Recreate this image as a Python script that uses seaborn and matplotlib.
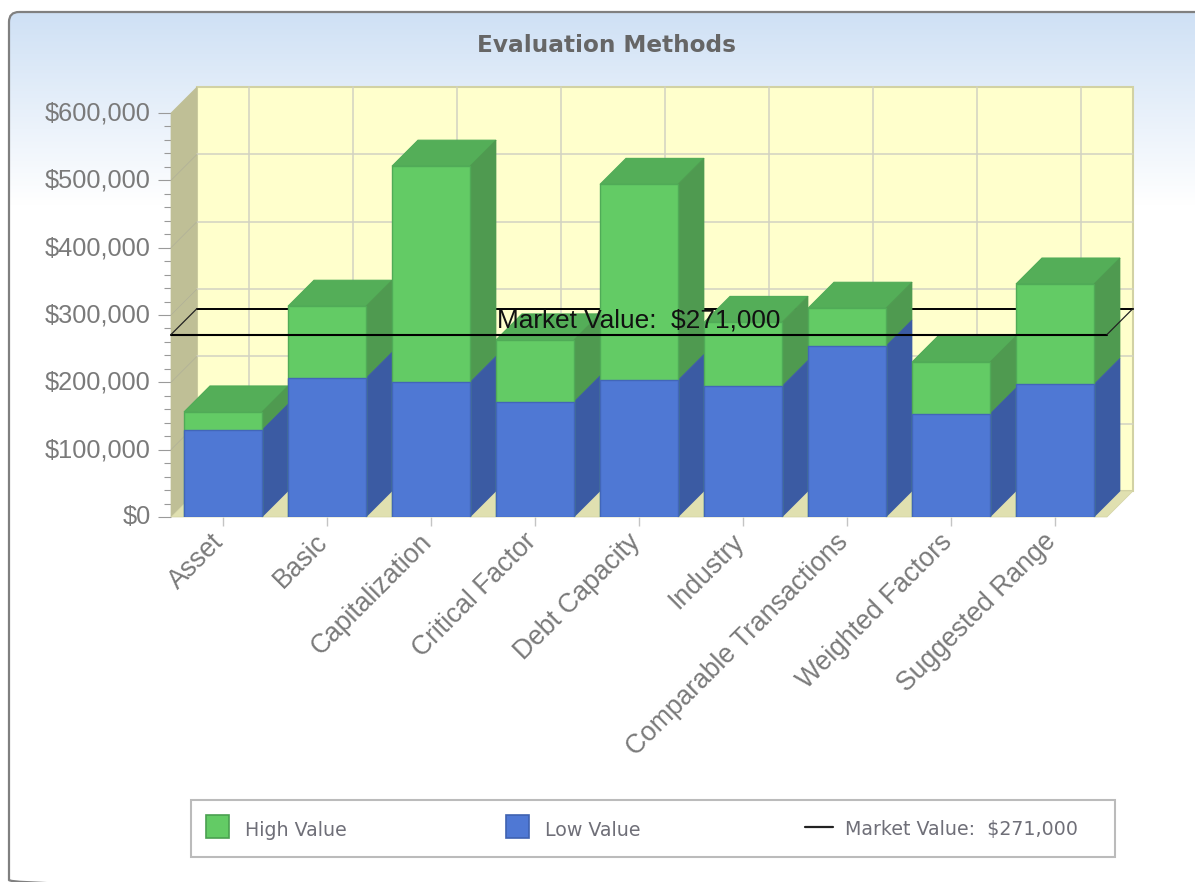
import numpy as np
import pandas as pd
import matplotlib
matplotlib.use('Agg')
import matplotlib.pyplot as plt
from matplotlib.patches import Polygon, Rectangle, FancyBboxPatch
from matplotlib.ticker import MultipleLocator, FuncFormatter
from matplotlib.transforms import ScaledTranslation
import seaborn as sns

methods = ['Asset', 'Basic', 'Capitalization', 'Critical Factor', 'Debt Capacity',
           'Industry', 'Comparable Transactions', 'Weighted Factors', 'Suggested Range']
low_value = [129000, 206000, 200000, 171000, 203000, 194000, 254000, 153000, 197000]
high_value = [156000, 313000, 521000, 263000, 494000, 289000, 310000, 230000, 346000]
market_value = 271000
market_label = 'Market Value:  $271,000'

W, H = 1195, 882
sns.set_theme(style='white')
plt.rcParams['font.family'] = ['Liberation Sans', 'DejaVu Sans']

fig = plt.figure(figsize=(W / 100, H / 100), dpi=100, facecolor='white')

# chrome in pixel coords
bg = fig.add_axes([0, 0, 1, 1], zorder=0)
bg.set_xlim(0, W)
bg.set_ylim(H, 0)
bg.axis('off')
grad = np.linspace(0, 1, 200).reshape(-1, 1)
top_col = np.array([0.81, 0.88, 0.96])
img = top_col + (1 - top_col) * grad[:, :, None]
panel = FancyBboxPatch((9, 12), 1260, 878, boxstyle='round,pad=0,rounding_size=10',
                       fc='none', ec='#808080', lw=1.6)
bg.add_patch(panel)
im = bg.imshow(img, extent=(9, 1195, 205, 12), aspect='auto', zorder=0)
im.set_clip_path(panel)
bg.set_xlim(0, W)
bg.set_ylim(H, 0)
bg.text(607, 45, 'Evaluation Methods', ha='center', va='center', fontsize=16.7,
        fontweight='bold', color='#666666', family='DejaVu Sans')

# legend box
bg.add_patch(Rectangle((191, 800), 924, 57, fc='white', ec='#bbbbbb', lw=1.5))
legend_font = dict(fontsize=13.7, color='#6f6f78', va='center', family='DejaVu Sans')
bg.add_patch(Rectangle((206.5, 814.5), 23, 23, fc='#63cb65', ec='#4aa050', lw=1.2))
bg.text(245, 830, 'High Value', **legend_font)
bg.add_patch(Rectangle((506.5, 814.5), 23, 23, fc='#4f78d4', ec='#3f62b0', lw=1.2))
bg.text(545, 830, 'Low Value', **legend_font)
bg.plot([805, 833], [827, 827], color='#222222', lw=1.6)
bg.text(845, 830, market_label, **legend_font)

# main axes = front plane of the 3D box
left, right, top, bottom = 171, 1107, 113, 517
ax = fig.add_axes([left / W, 1 - bottom / H, (right - left) / W, (bottom - top) / H], zorder=1)
ax.patch.set_visible(False)

df = pd.DataFrame({'method': methods, 'low': low_value, 'high': high_value})

sns.barplot(data=df, x='method', y='high', order=methods, color='#63cb65', saturation=1,
            width=0.75, edgecolor='#50ab57', linewidth=1, ax=ax, zorder=5)
n_high = len(ax.patches)
sns.barplot(data=df, x='method', y='low', order=methods, color='#4f78d4', saturation=1,
            width=0.75, edgecolor='#4266b8', linewidth=1, ax=ax, zorder=6)

ax.set_xlim(-0.5, len(methods) - 0.5)
ax.set_ylim(0, 600000)
ax.set_xlabel('')
ax.set_ylabel('')

# depth of the box in data units (26 px each way)
dx = 26 / ((right - left) / len(methods))
dy = 26 / ((bottom - top) / 600000)
x0, x1 = ax.get_xlim()
y0, y1 = ax.get_ylim()

bars = list(ax.patches)
high_bars = bars[:n_high]
low_bars = bars[n_high:]

def poly(points, **kw):
    p = Polygon(points, closed=True, clip_on=False, **kw)
    ax.add_patch(p)
    return p

# walls
poly([(x0 + dx, y0 + dy), (x1 + dx, y0 + dy), (x1 + dx, y1 + dy), (x0 + dx, y1 + dy)],
     fc='#ffffcc', ec='#d2d2a4', lw=1.5, zorder=1)
poly([(x0, y0), (x0 + dx, y0 + dy), (x0 + dx, y1 + dy), (x0, y1)],
     fc='#bfbf96', ec='#bfbf96', lw=0.5, zorder=1)
poly([(x0, y0), (x1, y0), (x1 + dx, y0 + dy), (x0 + dx, y0 + dy)],
     fc='#e0e0b0', ec='#d2d2a4', lw=0.5, zorder=1)

# back wall grid
for v in np.arange(100000, 600000, 100000):
    ax.plot([x0 + dx, x1 + dx], [v + dy, v + dy], color='#d2d2c2', lw=1.1, zorder=2, clip_on=False)
    ax.plot([x0, x0 + dx], [v, v + dy], color='#b0b098', lw=0.5, zorder=2, clip_on=False)
for i in range(len(methods)):
    ax.plot([i + dx, i + dx], [dy, y1 + dy], color='#d2d2c2', lw=1.1, zorder=2, clip_on=False)

# market value plane, back edge goes behind the bars
ax.plot([x0 + dx, x1 + dx], [market_value + dy] * 2, color='black', lw=1.4, zorder=3, clip_on=False)

# 3D faces of the bars
for hb, lb in zip(high_bars, low_bars):
    xl = hb.get_x()
    xr = xl + hb.get_width()
    hh = hb.get_height()
    lh = lb.get_height()
    poly([(xl, hh), (xr, hh), (xr + dx, hh + dy), (xl + dx, hh + dy)],
         fc='#54ae58', ec='#50ab57', lw=0.8, zorder=4)
    poly([(xr, lh), (xr + dx, lh + dy), (xr + dx, hh + dy), (xr, hh)],
         fc='#4f9a50', ec='#4f9a50', lw=0.5, zorder=4)
    poly([(xr, 0), (xr + dx, dy), (xr + dx, lh + dy), (xr, lh)],
         fc='#3b5ba3', ec='#3b5ba3', lw=0.5, zorder=4)

ax.plot([x0, x1], [market_value] * 2, color='black', lw=1.5, zorder=8, clip_on=False)
ax.plot([x0, x0 + dx], [market_value, market_value + dy], color='#222222', lw=0.9, zorder=8, clip_on=False)
ax.plot([x1, x1 + dx], [market_value, market_value + dy], color='#222222', lw=0.9, zorder=8, clip_on=False)
ax.annotate(market_label, (4, market_value), xytext=(0, 1.5), textcoords='offset points',
            ha='center', va='bottom', fontsize=18.9, color='#111111', zorder=9)

# axes
sns.despine(ax=ax, left=True, bottom=True, top=True, right=True)
ax.yaxis.set_major_locator(MultipleLocator(100000))
ax.yaxis.set_minor_locator(MultipleLocator(20000))
ax.yaxis.set_major_formatter(FuncFormatter(lambda v, p: '${:,.0f}'.format(v)))
ax.tick_params(axis='y', which='major', left=True, length=9.5, width=0.8, color='#9a9a9a',
               labelsize=18.3, labelcolor='#7a7a7a', pad=5)
ax.tick_params(axis='y', which='minor', left=True, length=5, width=0.8, color='#9a9a9a')
ax.tick_params(axis='x', bottom=True, length=6.5, width=1, color='#c4c4c4', pad=4)
ax.set_xticks(range(len(methods)))
ax.set_xticklabels(methods, rotation=45, ha='right', rotation_mode='anchor',
                   fontsize=19.1, color='#7a7a7a')

# nudge labels, the original sits a bit up / left of the ticks
shift_x = ScaledTranslation(-12 / 100, 3 / 100, fig.dpi_scale_trans)
shift_y = ScaledTranslation(0, 2 / 100, fig.dpi_scale_trans)
for lab in ax.get_xticklabels():
    lab.set_transform(lab.get_transform() + shift_x)
for lab in ax.get_yticklabels():
    lab.set_transform(lab.get_transform() + shift_y)

plt.savefig('out.png', dpi=100, facecolor='white')
